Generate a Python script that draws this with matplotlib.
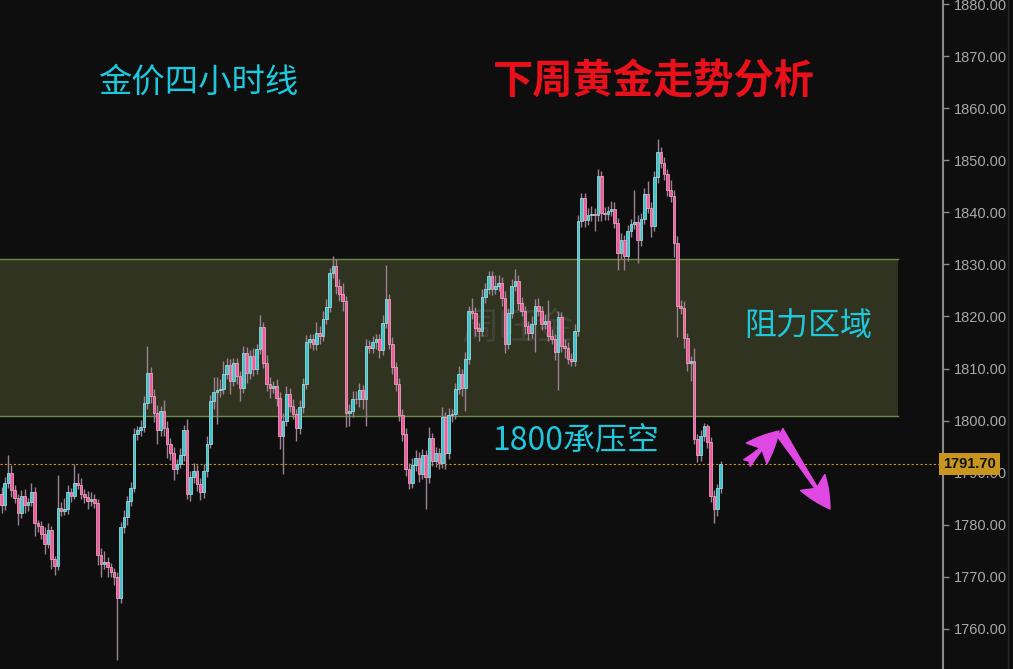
import numpy as np
import matplotlib

matplotlib.use("Agg")
import matplotlib.pyplot as plt
from matplotlib.lines import Line2D

plt.rcParams["font.family"] = ["Noto Sans CJK SC", "DejaVu Sans"]

# gold 4h candles (close of each bar, open = previous close)
first_open = 1786.0
closes = [
    1783.7, 1788.1, 1790.0, 1786.6, 1785.2, 1782.3, 1785.6, 1783.7, 1784.4, 1786.2,
    1780.4, 1779.8, 1778.3, 1776.4, 1778.9, 1773.5, 1772.0, 1783.3, 1782.7, 1783.1,
    1786.2, 1785.6, 1788.1, 1787.7, 1786.0, 1785.4, 1784.6, 1785.0, 1784.2, 1774.1,
    1772.5, 1772.9, 1771.8, 1770.9, 1769.9, 1766.0,
    1779.5, 1781.4, 1784.6, 1787.1, 1797.5, 1798.1, 1798.7, 1803.3, 1809.2, 1804.8,
    1801.5, 1798.1, 1801.9, 1798.5, 1795.6, 1793.7, 1790.8, 1791.7, 1793.3, 1798.1,
    1786.0, 1789.1, 1790.4, 1787.9, 1786.2, 1790.4, 1795.6, 1803.8, 1805.4, 1805.8,
    1806.1, 1809.0, 1810.6, 1807.7, 1811.1,
    1808.6, 1806.3, 1812.9, 1809.2, 1812.5, 1810.0, 1813.8, 1817.9, 1811.1, 1807.1,
    1806.3, 1806.7, 1804.4, 1797.1, 1800.0, 1805.2, 1802.9, 1801.3, 1798.5, 1802.7,
    1807.1, 1815.0, 1815.6, 1814.8, 1816.9, 1816.3, 1819.6, 1821.9, 1828.4, 1829.6,
    1825.9, 1824.4, 1823.0, 1801.5, 1801.9, 1804.2, 1804.2, 1805.8, 1804.2, 1814.4,
    1813.9, 1815.0, 1815.6, 1813.6, 1818.8, 1823.4, 1814.8, 1810.2, 1807.1, 1801.0,
    1797.5, 1790.8, 1788.1, 1791.4, 1792.9, 1789.8, 1793.3, 1789.1, 1796.7, 1792.3,
    1793.7, 1791.9, 1800.6, 1793.7, 1801.0, 1801.3, 1806.1, 1809.0, 1806.3, 1811.9,
    1821.1, 1820.7, 1817.7, 1817.3, 1823.8, 1825.3, 1827.8,
    1825.3, 1825.9, 1826.5, 1823.6, 1814.8, 1820.7, 1825.9, 1826.9, 1822.5, 1821.1,
    1818.2, 1816.9, 1818.6, 1822.1, 1821.1, 1818.6, 1819.2, 1816.3, 1815.7, 1813.1,
    1819.8, 1814.4, 1814.0, 1811.9, 1811.5, 1817.3, 1838.4, 1842.8, 1838.6, 1839.4,
    1839.7, 1839.4, 1847.0, 1839.9, 1839.7,
    1840.3, 1840.7, 1838.0, 1832.1, 1834.6, 1831.7, 1836.5, 1837.8, 1838.2, 1834.6,
    1838.8, 1843.6, 1840.9, 1837.4, 1846.7, 1851.5, 1849.5, 1847.4, 1844.2, 1843.2,
    1834.2, 1822.1, 1821.7, 1815.9, 1811.1, 1811.5, 1796.5, 1793.3, 1797.1, 1799.0,
    1795.8, 1785.6, 1783.1, 1787.1, 1791.7,
]
# shadow lengths above / below the body
wick_up = [
    1.2, 1.0, 3.4, 1.5, 1.0, 0.8, 1.0, 1.2, 0.8, 1.8, 1.0, 0.6, 1.0, 1.2, 1.5, 0.8,
    0.5, 6.3, 1.0, 2.0, 1.4, 0.8, 3.6, 1.8, 1.2, 0.8, 1.0, 1.2, 1.0, 0.8, 1.5, 2.0,
    1.0, 0.8, 0.8, 1.0,
    1.0, 1.5, 1.0, 1.2, 1.0, 0.8, 1.5, 1.5, 5.2, 1.0, 1.2, 1.5, 1.0, 2.0, 1.5, 1.0,
    1.2, 1.0, 1.5, 1.0, 2.3, 1.2, 1.5, 1.0, 1.0, 1.2, 1.5, 1.2, 3.0, 2.5, 1.8, 2.5,
    1.5, 1.2, 1.0,
    1.0, 1.0, 1.5, 1.2, 1.0, 1.5, 1.0, 2.3, 1.0, 1.5, 1.2, 1.0, 1.2, 1.0, 1.5, 1.5,
    1.0, 1.2, 1.0, 1.2, 1.0, 1.5, 1.0, 1.0, 2.0, 1.2, 1.5, 1.5, 1.0, 2.1, 1.5, 1.2,
    2.0, 1.0, 1.2, 1.5, 1.5, 1.5, 1.0, 1.2,
    1.0, 1.2, 1.0, 1.0, 1.5, 6.4, 1.0, 1.2, 1.0, 1.0, 1.2, 1.0, 1.0, 1.5, 1.5, 1.0,
    1.2, 1.0, 2.0, 1.0, 1.2, 1.0, 2.0, 1.0, 1.5, 1.0, 1.2, 1.5, 1.0, 1.2, 1.0, 2.5,
    1.2, 1.0, 1.5, 1.2, 1.0,
    1.0, 2.0, 1.5, 1.0, 1.2, 1.0, 1.2, 2.3, 1.0, 1.2, 1.0, 1.0, 1.5, 1.2, 1.5, 1.0,
    1.2, 4.0, 1.2, 1.0, 1.2, 1.0, 1.2, 1.0, 1.0, 1.2, 1.0, 1.0, 1.0, 1.5, 1.5, 1.2,
    1.3, 1.0, 1.2,
    1.0, 1.5, 1.2, 1.0, 1.5, 1.0, 1.0, 1.0, 6.0, 1.2, 1.0, 1.0, 2.5, 1.0, 1.2, 2.6,
    1.0, 1.2, 1.0, 2.0, 1.0, 1.2, 1.0, 1.2, 1.0, 1.0, 2.4, 1.0, 1.0, 0.5, 0.4, 1.0,
    1.0, 0.8, 0.5,
]
wick_dn = [
    1.5, 0.8, 1.0, 1.2, 1.0, 2.3, 1.0, 1.5, 1.0, 0.8, 2.5, 1.2, 1.0, 2.0, 0.8, 2.0,
    1.6, 0.6, 1.0, 0.8, 1.0, 1.2, 0.6, 0.8, 1.0, 1.2, 1.5, 1.0, 1.0, 1.8, 2.5, 1.0,
    1.8, 1.0, 1.5, 12.0,
    1.0, 1.0, 1.5, 1.0, 0.8, 1.2, 1.0, 0.8, 1.0, 1.5, 1.8, 2.5, 1.0, 1.5, 2.8, 1.2,
    2.3, 1.0, 0.8, 1.0, 1.0, 1.5, 1.0, 1.5, 1.5, 1.0, 1.2, 0.8, 1.5, 6.0, 1.2, 1.0,
    1.0, 2.5, 1.0,
    1.5, 2.5, 1.0, 2.0, 1.2, 1.5, 1.0, 1.0, 1.0, 1.5, 2.0, 1.0, 1.5, 2.5, 7.3, 1.0,
    1.2, 1.0, 2.5, 1.0, 1.2, 1.0, 1.0, 1.2, 1.2, 1.5, 1.0, 1.0, 1.0, 1.0, 1.5, 1.5,
    2.0, 2.8, 2.5, 1.2, 1.0, 1.5, 2.0, 5.2,
    1.0, 1.0, 1.2, 1.5, 1.0, 1.0, 1.0, 1.2, 1.5, 1.0, 1.5, 1.5, 1.2, 1.0, 1.0, 1.5,
    1.0, 6.0, 1.0, 1.0, 1.2, 1.2, 1.0, 2.9, 1.0, 1.2, 1.0, 1.0, 1.5, 4.4, 1.0, 1.2,
    1.5, 2.0, 1.0, 1.2, 1.0,
    1.2, 1.0, 1.0, 1.5, 1.9, 1.0, 1.0, 1.0, 1.2, 1.0, 1.5, 1.5, 1.0, 5.5, 1.0, 1.2,
    1.0, 1.0, 1.0, 1.5, 7.3, 1.2, 2.0, 1.0, 1.0, 1.0, 1.0, 1.2, 1.5, 1.0, 1.0, 3.0,
    1.0, 1.5, 1.2,
    1.2, 1.0, 1.0, 3.2, 1.0, 2.8, 1.0, 1.2, 1.0, 4.3, 1.0, 1.0, 1.0, 2.1, 1.0, 1.0,
    1.0, 1.2, 1.0, 1.2, 2.8, 6.0, 1.2, 2.0, 1.5, 3.5, 1.0, 1.3, 1.0, 1.0, 1.0, 1.2,
    2.7, 1.5, 1.0,
]

zone_low, zone_high = 1800.8, 1831.0
last_price = 1791.70
y_ticks = list(range(1760, 1881, 10))

title_left = "金价四小时线"
title_right = "下周黄金走势分析"
zone_label = "阻力区域"
level_label = "1800承压空"
watermark = "周旺金"

# --- figure layout (pixels of the 1013x669 reference) ---
W, H = 1013, 669
PLOT_W = 943
BG = "#0e0e0e"

closes = np.array(closes)
opens = np.r_[first_open, closes[:-1]]
highs = np.maximum(opens, closes) + np.array(wick_up)
lows = np.minimum(opens, closes) - np.array(wick_dn)
n = len(closes)
x = np.arange(n)
up = closes >= opens

fig = plt.figure(figsize=(W / 100, H / 100), dpi=100, facecolor=BG)
ax = fig.add_axes([0, 0, PLOT_W / W, 1])
ax.set_facecolor(BG)

step = (720.5 - 1.5) / (n - 1)
ax.set_xlim(-1.5 / step, (PLOT_W - 1.5) / step)
ax.set_ylim(1752.3, 1880.77)

zone_right = 898 / PLOT_W
ax.axhspan(zone_low, zone_high, xmin=0, xmax=zone_right, facecolor="#30331f", edgecolor="none", zorder=0)
for yv in (zone_low, zone_high):
    ax.axhline(yv, xmin=0, xmax=zone_right, color="#6c8c45", lw=1.0, zorder=1)

ax.axhline(last_price, color="#c8961e", lw=0.8, ls=(0, (2, 2)), zorder=1)

ax.text(518 / PLOT_W, 1 - 328 / H, watermark, transform=ax.transAxes, ha="center", va="center",
        fontsize=27, color="#6a6a6a", alpha=0.3, zorder=1)

ax.vlines(x, lows, highs, color="#9c8292", lw=1.0, zorder=2)
ax.bar(x[up], (closes - opens)[up], bottom=opens[up], width=0.8,
       color="#3cc3cc", edgecolor="#a8ecef", linewidth=0.5, zorder=3)
ax.bar(x[~up], (closes - opens)[~up], bottom=opens[~up], width=0.8,
       color="#f05a9c", edgecolor="#f8b0cc", linewidth=0.5, zorder=3)

# axis on the right
for side in ("top", "left", "bottom"):
    ax.spines[side].set_visible(False)
ax.spines["right"].set_color("#8a8a8a")
ax.spines["right"].set_linewidth(1.5)
ax.set_xticks([])
ax.yaxis.tick_right()
ax.set_yticks(y_ticks)
ax.set_yticklabels([f"{v:.2f}" for v in y_ticks], family="Liberation Sans")
ax.tick_params(axis="y", colors="#8a8a8a", labelcolor="#a8a8a8", length=4, width=1,
               pad=4, labelsize=10.5)

ax.text(1.0, last_price, f"{last_price:.2f}", transform=ax.get_yaxis_transform(),
        ha="left", va="center", fontsize=10.5, fontweight="bold", color="#111111",
        family="Liberation Sans", clip_on=False, zorder=6,
        bbox=dict(boxstyle="square,pad=0.28", fc="#c8961e", ec="none"))
fig.add_artist(Line2D([1008 / W] * 2, [0, 1], color="#2a2a2a", lw=1))

# annotations
def at(px, py):
    return px / PLOT_W, 1 - py / H

ax.text(*at(198, 82), title_left, transform=ax.transAxes, ha="center", va="center",
        fontsize=24, color="#1ec8dc")
ax.text(*at(654, 82), title_right, transform=ax.transAxes, ha="center", va="center",
        fontsize=29, color="#e8101a", fontweight="bold")
ax.text(*at(808, 326), zone_label, transform=ax.transAxes, ha="center", va="center",
        fontsize=23, color="#1ec8dc")
ax.text(*at(576, 441), level_label, transform=ax.transAxes, ha="center", va="center",
        fontsize=23, color="#1ec8dc")

arrow = dict(arrowstyle="fancy,head_length=1.2,head_width=1.1,tail_width=0.35",
             color="#e048e4", mutation_scale=19, shrinkA=0, shrinkB=0)
ax.annotate("", xy=at(779, 431), xytext=at(747, 463), xycoords="axes fraction", arrowprops=arrow)
ax.annotate("", xy=at(830, 509), xytext=at(779, 431), xycoords="axes fraction", arrowprops=arrow)

fig.savefig("out.png", dpi=100, facecolor=BG)
